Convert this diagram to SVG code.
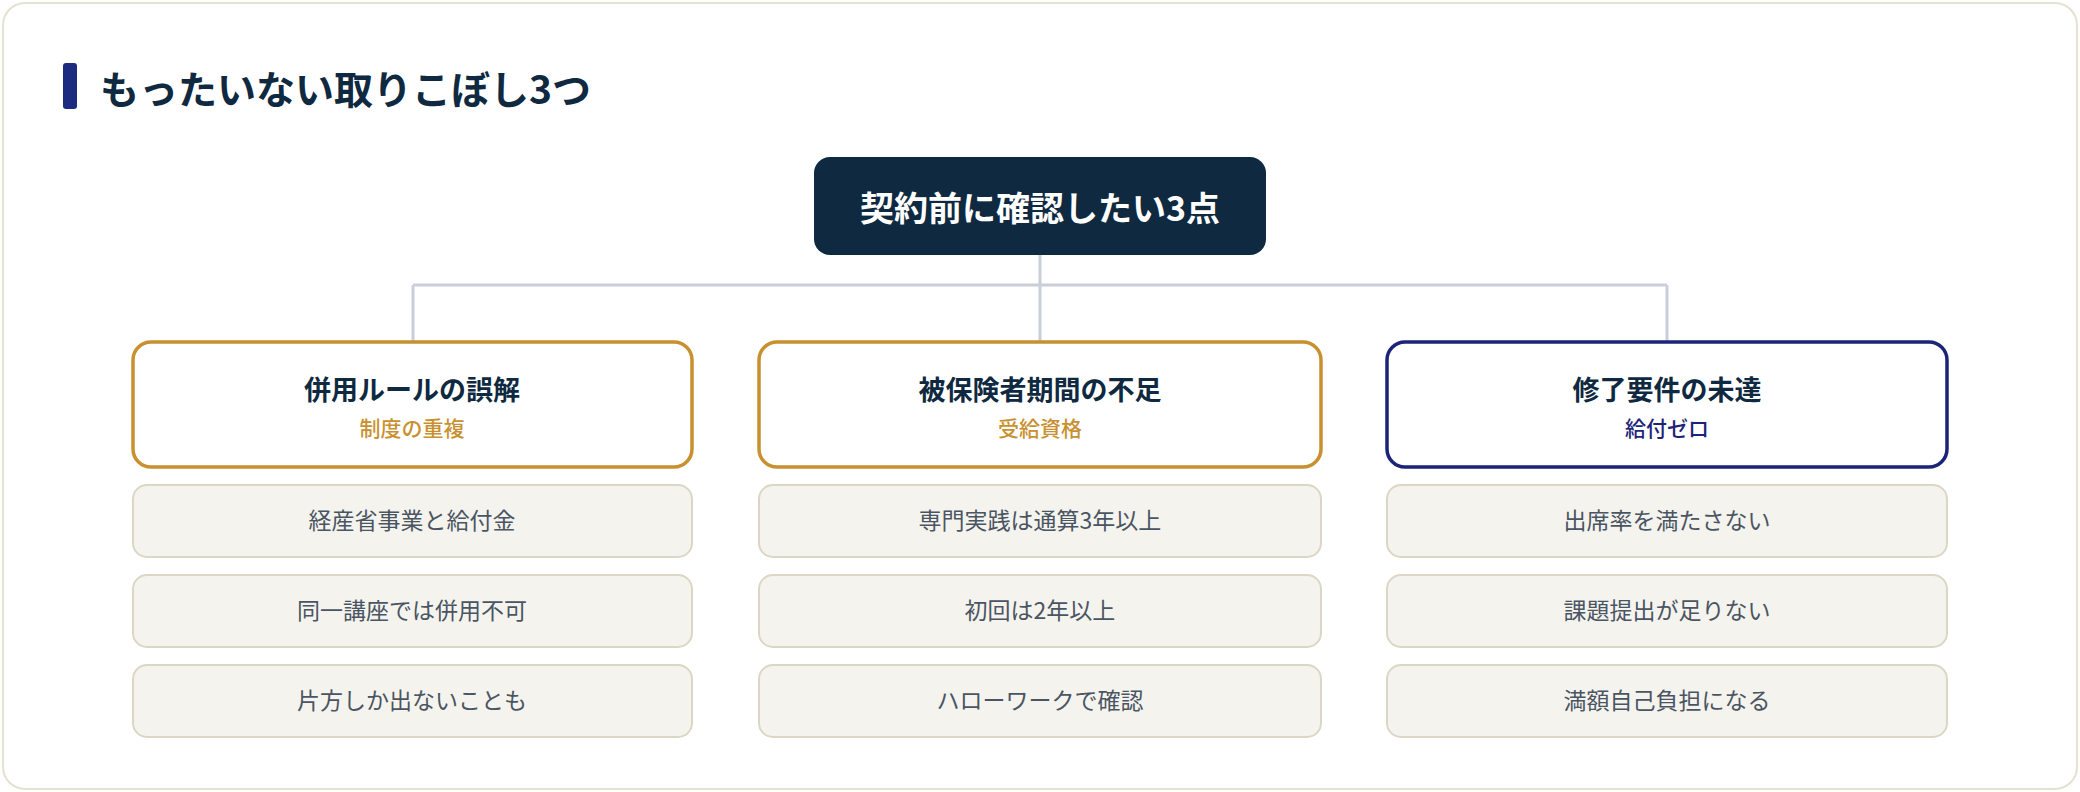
<svg xmlns="http://www.w3.org/2000/svg" width="2080" height="792" viewBox="0 0 2080 792">
<style>
text{font-family:"Noto Sans CJK JP","Noto Sans",sans-serif;text-anchor:middle}
.ttl{font-size:27px;font-weight:700;fill:#0f2940}
.sub{font-size:21px;font-weight:500}
.item rect{fill:#f5f3ed;stroke:#dcd7c4;stroke-width:2}
.item text{font-size:23px;fill:#4a5563}
.conn{stroke:#c9ced8;stroke-width:3;fill:none}
</style>
<rect x="3" y="3" width="2074" height="786" rx="22" fill="#fff" stroke="#e4e1d2" stroke-width="2"/>
<rect x="63" y="63" width="14" height="46" rx="3" fill="#1c2a80"/>
<text x="100" y="104" style="text-anchor:start;font-size:39px;font-weight:700;fill:#0f2940">もったいない取りこぼし3つ</text>
<g id="connectors" class="conn">
<path d="M1040 255V285M413 285H1667M413 285V342M1040 285V342M1667 285V342"/>
</g>
<g id="root"><rect x="814" y="157" width="452" height="98" rx="16" fill="#0f2940"/>
<text x="1040" y="221" style="font-size:34px;font-weight:700;fill:#fff">契約前に確認したい3点</text></g>
<g id="n1"><rect x="133" y="342" width="559" height="125" rx="18" fill="#fff" stroke="#c8902f" stroke-width="3.5"/>
<text class="ttl" x="412" y="400">併用ルールの誤解</text><text class="sub" x="412" y="436" fill="#c8902f">制度の重複</text></g>
<g id="n2"><rect x="759" y="342" width="562" height="125" rx="18" fill="#fff" stroke="#c8902f" stroke-width="3.5"/>
<text class="ttl" x="1040" y="400">被保険者期間の不足</text><text class="sub" x="1040" y="436" fill="#c8902f">受給資格</text></g>
<g id="n3"><rect x="1387" y="342" width="560" height="125" rx="18" fill="#fff" stroke="#1c2478" stroke-width="3.5"/>
<text class="ttl" x="1667" y="400">修了要件の未達</text><text class="sub" x="1667" y="436" fill="#1c2478">給付ゼロ</text></g>
<g id="i11" class="item"><rect x="133" y="485" width="559" height="72" rx="14"/><text x="412" y="529">経産省事業と給付金</text></g>
<g id="i12" class="item"><rect x="133" y="575" width="559" height="72" rx="14"/><text x="412" y="619">同一講座では併用不可</text></g>
<g id="i13" class="item"><rect x="133" y="665" width="559" height="72" rx="14"/><text x="412" y="709">片方しか出ないことも</text></g>
<g id="i21" class="item"><rect x="759" y="485" width="562" height="72" rx="14"/><text x="1040" y="529">専門実践は通算3年以上</text></g>
<g id="i22" class="item"><rect x="759" y="575" width="562" height="72" rx="14"/><text x="1040" y="619">初回は2年以上</text></g>
<g id="i23" class="item"><rect x="759" y="665" width="562" height="72" rx="14"/><text x="1040" y="709">ハローワークで確認</text></g>
<g id="i31" class="item"><rect x="1387" y="485" width="560" height="72" rx="14"/><text x="1667" y="529">出席率を満たさない</text></g>
<g id="i32" class="item"><rect x="1387" y="575" width="560" height="72" rx="14"/><text x="1667" y="619">課題提出が足りない</text></g>
<g id="i33" class="item"><rect x="1387" y="665" width="560" height="72" rx="14"/><text x="1667" y="709">満額自己負担になる</text></g>
</svg>
